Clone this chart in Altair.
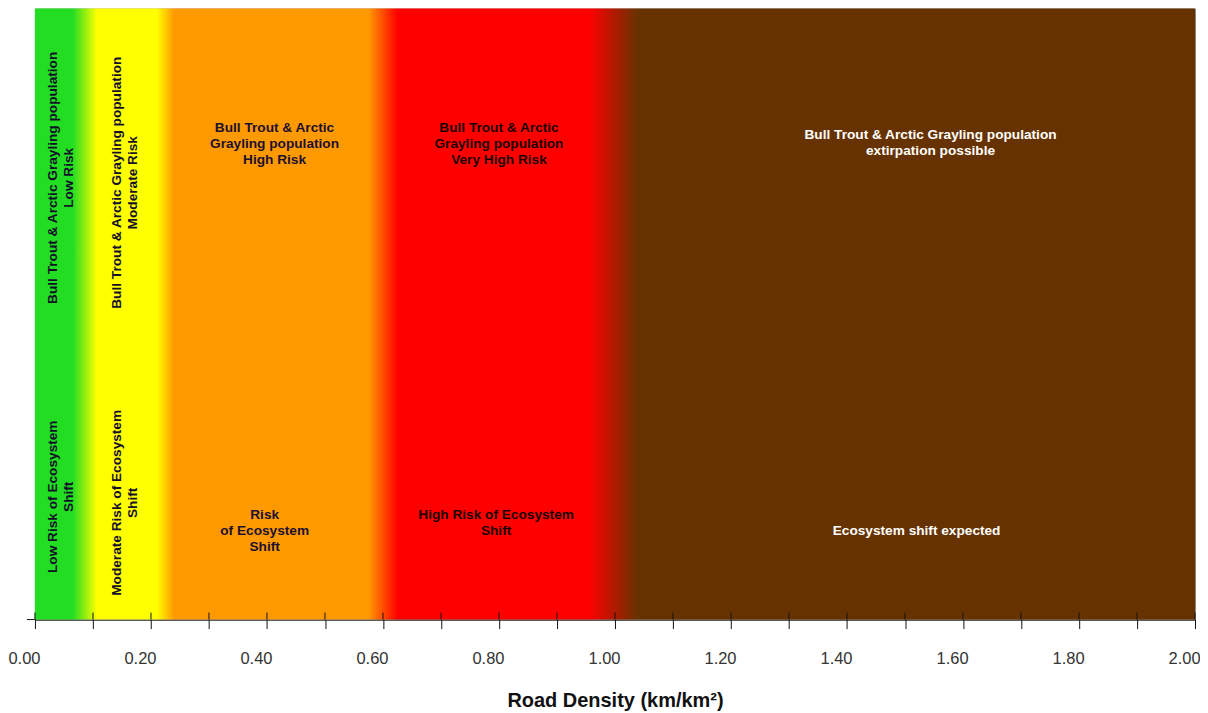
import altair as alt
import pandas as pd

# ---- data ----
x_domain = [0.0, 2.0]
tick_values = [round(i * 0.1, 1) for i in range(21)]

band_stop_x = [0.0, 0.065, 0.107, 0.21, 0.24, 0.575, 0.625, 0.955, 1.04, 2.0]
band_stop_color = ["#22DD22", "#22DD22", "#FFFF00", "#FFFF00", "#FF9900",
                   "#FF9900", "#FF0000", "#FF0000", "#663300", "#663300"]

label_text = [
    "Bull Trout & Arctic Grayling population\nLow Risk",
    "Bull Trout & Arctic Grayling population\nModerate Risk",
    "Low Risk of Ecosystem\nShift",
    "Moderate Risk of Ecosystem\nShift",
    "Bull Trout & Arctic\nGrayling population\nHigh Risk",
    "Bull Trout & Arctic\nGrayling population\nVery High Risk",
    "Bull Trout & Arctic Grayling population\nextirpation possible",
    "Risk\nof Ecosystem\nShift",
    "High Risk of Ecosystem\nShift",
    "Ecosystem shift expected",
]
# position of the first line of each label
label_x = [0.031, 0.141, 0.031, 0.141, 0.413, 0.80, 1.544, 0.396, 0.795, 1.52]
label_y = [72.3, 71.5, 20.1, 19.1, 80.4, 80.4, 79.3, 17.1, 17.1, 14.5]
label_angle = [270, 270, 270, 270, 0, 0, 0, 0, 0, 0]
label_color = ["#14102a", "#14102a", "#14102a", "#14102a", "#1c1030",
               "#1a0000", "#ffffff", "#1c1030", "#1a0000", "#ffffff"]

W, H = 1162, 612

# ---- chart ----
band_df = pd.DataFrame({"x0": [x_domain[0]], "x1": [x_domain[1]], "y0": [0], "y1": [100]})
gradient = alt.Gradient(
    gradient="linear",
    stops=[alt.GradientStop(color=c, offset=(v - x_domain[0]) / (x_domain[1] - x_domain[0]))
           for v, c in zip(band_stop_x, band_stop_color)],
    x1=0, x2=1, y1=0, y2=0,
)

xscale = alt.Scale(domain=x_domain, nice=False, zero=False)
yscale = alt.Scale(domain=[0, 100], nice=False)

label_expr = "round(datum.value*10) % 2 == 0 ? format(datum.value, '.2f') : ''"

band = alt.Chart(band_df).mark_rect(color=gradient).encode(
    x=alt.X("x0:Q", scale=xscale,
            axis=alt.Axis(values=tick_values, labelExpr=label_expr, title="Road Density (km/km²)",
                          grid=False, tickSize=9, tickColor="#111", domainColor="#111",
                          labelFontSize=16.5, labelColor="#333", labelPadding=22,
                          labelOffset=-11,
                          labelFont="Liberation Sans", labelFlush=False,
                          titleFont="Liberation Sans", titleFontSize=20, titleFontWeight="bold",
                          titleColor="#111", titlePadding=24)),
    x2="x1:Q",
    y=alt.Y("y0:Q", scale=yscale,
            axis=alt.Axis(labels=False, ticks=False, title=None, grid=False,
                          domainColor="#111")),
    y2="y1:Q",
)

tick_df = pd.DataFrame({"t": tick_values})
ticks_up = alt.Chart(tick_df).mark_rule(color="#111", strokeWidth=1).encode(
    x=alt.X("t:Q", scale=xscale),
    y=alt.value(H - 7),
    y2=alt.value(H),
)

domain_ext = alt.Chart(pd.DataFrame({"a": [0]})).mark_rule(color="#111", strokeWidth=1).encode(
    x=alt.value(-8), x2=alt.value(0), y=alt.value(H)
)

lab_df = pd.DataFrame({"text": label_text, "x": label_x, "y": label_y,
                       "angle": label_angle, "color": label_color})
labels = alt.Chart(lab_df).mark_text(
    font="Liberation Sans", fontSize=13.7, fontWeight="bold", lineBreak="\n",
    lineHeight=16, align="center", baseline="middle",
).encode(
    x=alt.X("x:Q", scale=xscale),
    y=alt.Y("y:Q", scale=yscale),
    text="text:N",
    angle=alt.Angle("angle:Q", scale=None),
    color=alt.Color("color:N", scale=None),
)

chart = alt.layer(band, ticks_up, domain_ext, labels).properties(
    width=W, height=H,
    autosize=alt.AutoSizeParams(type="none"),
    padding={"left": 27, "top": 0, "right": 5, "bottom": 93},
    background="white",
).configure_view(stroke="#888", strokeWidth=1)

chart.save("out.html", embed_options={"renderer": "svg", "actions": False})
